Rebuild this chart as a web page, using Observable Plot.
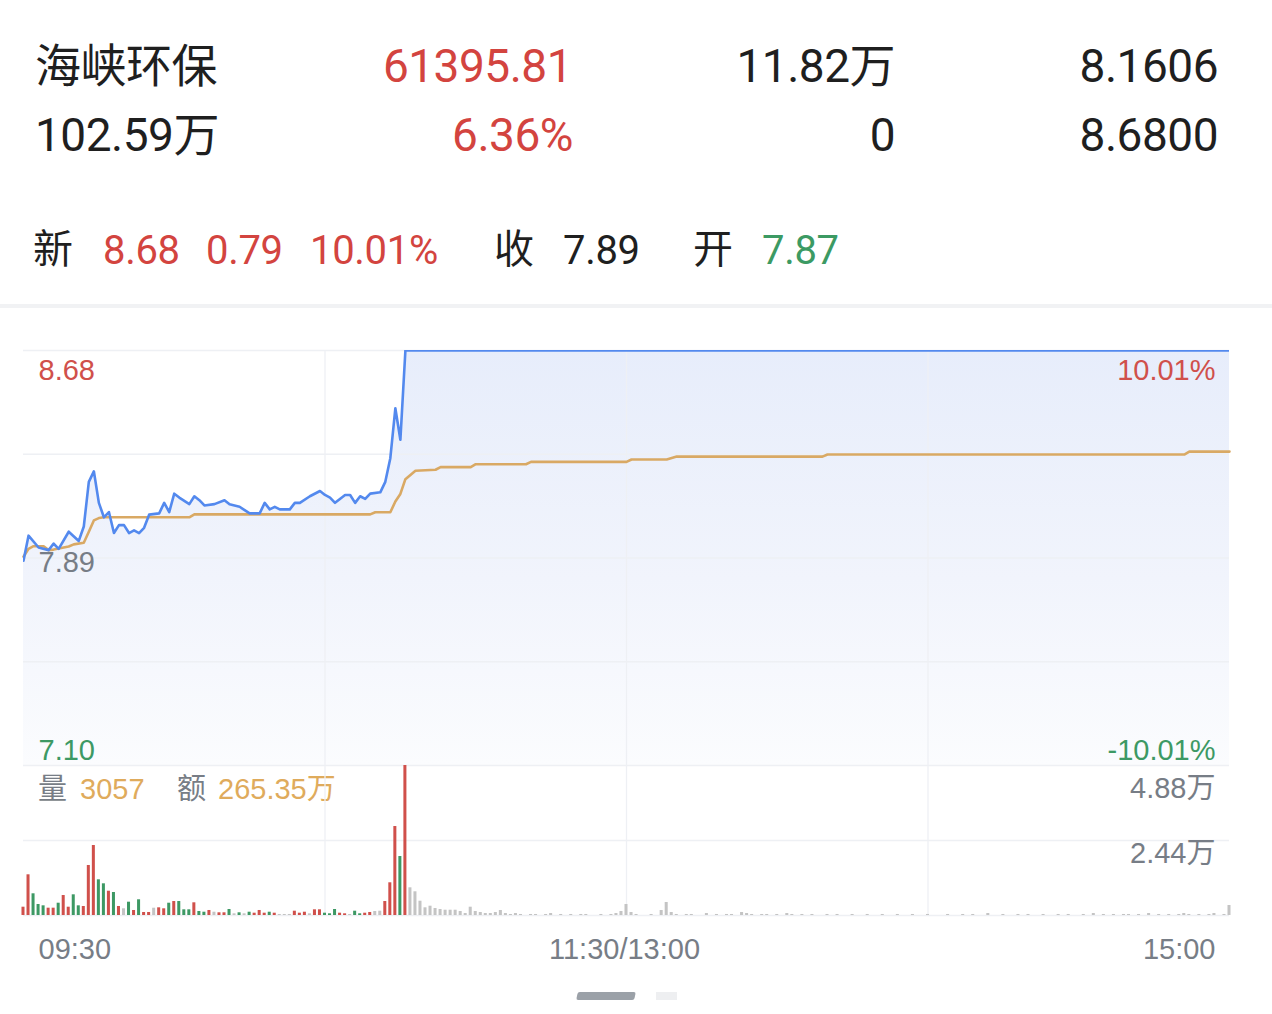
<!DOCTYPE html>
<html><head><meta charset="utf-8">
<script src="https://cdn.jsdelivr.net/npm/d3@7"></script>
<script src="https://cdn.jsdelivr.net/npm/@observablehq/plot@0.6"></script>
<style>
body{margin:0;background:#fff;width:1272px;height:1014px;overflow:hidden;position:relative;font-family:Roboto,"Noto Sans CJK SC",sans-serif;}
.t{position:absolute;white-space:nowrap;line-height:1;}
.h1{font-size:46px;letter-spacing:-0.5px;}
.h3{font-size:40px;letter-spacing:-0.3px;}
.lg{font-family:"Liberation Sans","Noto Sans CJK SC",sans-serif;font-size:29px;}
#price,#vol{position:absolute;left:0;}
#price{top:330px;} #vol{top:745px;}
svg{overflow:visible;}
</style></head><body>
<div id="header"></div>
<div id="price"></div>
<div id="vol"></div>
<div style="position:absolute;left:577px;top:992px;width:58px;height:8px;border-radius:2px;background:#9ba1a8;transform:skewX(-12deg)"></div>
<div style="position:absolute;left:656px;top:992px;width:21px;height:8px;background:#eeeff1"></div>
<script>
// ---------- data ----------
const stockName = "海峡环保";
const headerRow1 = ["61395.81", "11.82万", "8.1606"];
const headerRow2 = ["102.59万", "6.36%", "0", "8.6800"];
const quoteLabels = ["新", "收", "开"];
const lastPrice = "8.68", change = "0.79", changePct = "10.01%";
const prevClose = 7.89, openPrice = "7.87";
const highPrice = 8.68, lowPrice = 7.10;
const volumeNow = "3057", amountNow = "265.35万";

const priceMinutes = [0,1,3,5,6,7,9,11,12,13,14,15,16,17,18,19,20,21,22,23,24,25,27,28,29,30,31,33,34,35,36,38,40,41,43,45,47,48,49,50,51,53,54,55,57,59,60,61,62,64,65,66,67,68,69,71,72,73,74,75,76,240];
const prices = [7.88,7.975,7.93,7.92,7.945,7.925,7.99,7.955,8.01,8.18,8.22,8.10,8.045,8.065,7.985,8.015,8.015,7.985,7.995,7.985,8.005,8.055,8.06,8.10,8.065,8.135,8.12,8.095,8.125,8.11,8.09,8.095,8.11,8.095,8.085,8.06,8.06,8.10,8.075,8.085,8.075,8.075,8.10,8.10,8.125,8.145,8.13,8.12,8.10,8.13,8.13,8.10,8.125,8.115,8.135,8.14,8.18,8.27,8.46,8.34,8.68,8.68];

const avgMinutes = [0,1,2,4,5,6,8,9,10,12,13,14,15,16,33,34,69,70,73,74,75,76,78,82,83,89,90,100,101,120,121,128,130,159,160,231,232,240];
const avgPrices = [7.895,7.925,7.935,7.935,7.92,7.922,7.93,7.934,7.942,7.948,7.99,8.033,8.042,8.045,8.045,8.056,8.056,8.064,8.064,8.105,8.134,8.19,8.222,8.226,8.236,8.236,8.247,8.247,8.256,8.256,8.265,8.265,8.276,8.276,8.284,8.284,8.295,8.295];

// volume per minute (手), minute 0..240
const volumes = [
2700,13240,7060,3580,3150,2380,2380,4000,6500,2700,
6730,3150,2930,16270,22770,11610,10310,7900,7480,2930,
2180,4330,1630,5110,980,980,2370,2500,2180,4000,
4550,4550,1850,1850,4130,1300,1070,1630,1070,880,
880,1950,550,880,550,1070,750,1630,750,1070,
750,330,330,330,1400,750,1070,550,1850,1850,
750,550,1950,750,550,330,1400,550,750,980,
1300,1400,4550,10640,28950,19190,48800,9010,7710,4650,
2500,3030,2280,1950,1720,1720,1720,1300,650,2700,
1300,980,650,650,980,1630,650,330,650,330,
0,330,330,0,330,650,0,330,0,330,
0,330,330,0,0,330,0,330,650,1300,
3580,980,330,0,0,330,0,1630,4230,980,
330,0,330,330,0,0,650,0,330,0,
330,330,0,980,650,330,0,330,330,0,
330,0,650,330,0,330,0,330,0,0,
330,0,330,0,0,330,0,0,330,0,
0,330,0,0,330,0,0,330,0,0,
330,0,0,0,330,0,0,330,0,330,
0,0,650,0,0,330,0,0,330,0,
330,0,0,330,0,0,330,0,330,0,
0,330,0,650,0,330,0,330,0,330,
330,0,330,0,650,0,330,0,330,0,
330,650,330,0,330,0,330,650,0,330,
3250];
// tick direction for minutes 0..76 (1 up, -1 down, 0 flat); after limit-up all flat
const volDirs = [1,1,-1,-1,-1,1,1,-1,1,1, -1,-1,1,1,1,-1,-1,1,-1,1, 0,-1,1,-1,1,1,0,1,1,-1, 1,-1,-1,-1,1,-1,-1,1,0,1, 1,-1,0,-1,0,-1,1,1,1,-1, 1,0,0,0,1,1,1,0,1,1, -1,-1,-1,1,1,0,-1,-1,1,1, 0,0,1,1,1,-1,1];

const timeTickMinutes = [0, 120, 240];
const timeTickLabels = ["09:30", "11:30/13:00", "15:00"];
const gridMinutes = [60, 120, 180];

// ---------- colors ----------
const RED = "#d3443f", GREEN = "#3c9a63", DARK = "#1f1f1f", GRAY = "#777d86";
const BLUE = "#5389ee", ORANGE = "#d9a964", GRID = "#eef0f4";
const CRED = "#d0504b", CGREEN = "#3d9964", VGRAY = "#c4c4c4", VORANGE = "#dfab5c";

// ---------- header ----------
const header = document.getElementById("header");
function put(text, cls, color, top, left, right) {
  const s = document.createElement("span");
  s.className = "t " + cls;
  s.textContent = text;
  s.style.color = color;
  s.style.top = top + "px";
  if (left != null) s.style.left = left + "px";
  if (right != null) s.style.right = (1272 - right) + "px";
  header.appendChild(s);
}
put(stockName, "h1", DARK, 43, 35);
put(headerRow1[0], "h1", RED, 43, null, 572);
put(headerRow1[1], "h1", DARK, 43, null, 895);
put(headerRow1[2], "h1", DARK, 43, null, 1218);
put(headerRow2[0], "h1", DARK, 112, 35);
put(headerRow2[1], "h1", RED, 112, null, 573);
put(headerRow2[2], "h1", DARK, 112, null, 895);
put(headerRow2[3], "h1", DARK, 112, null, 1218);
put(quoteLabels[0], "h3", DARK, 230, 33);
put(lastPrice, "h3", RED, 231, 103);
put(change, "h3", RED, 231, 206);
put(changePct, "h3", RED, 231, 310);
put(quoteLabels[1], "h3", DARK, 230, 494);
put(prevClose.toFixed(2), "h3", DARK, 231, 563);
put(quoteLabels[2], "h3", DARK, 230, 693);
put(openPrice, "h3", GREEN, 231, 762);
const sep = document.createElement("div");
sep.style.cssText = "position:absolute;left:0;top:304px;width:1272px;height:4px;background:#f1f2f4";
header.appendChild(sep);
// volume legend
put("量", "lg", GRAY, 775, 38);
put(volumeNow, "lg", VORANGE, 775, 80);
put("额", "lg", GRAY, 775, 177);
put(amountNow, "lg", VORANGE, 775, 218);

// ---------- tables ----------
const priceData = priceMinutes.map((m, i) => ({m, p: prices[i]}));
const avgData = avgMinutes.map((m, i) => ({m, p: avgPrices[i]}));
const volData = volumes.map((v, m) => ({m, v, dir: m < volDirs.length ? volDirs[m] : 0}));
const volMax = d3.max(volumes);
const gridPrices = [highPrice, (highPrice + prevClose) / 2, prevClose, (lowPrice + prevClose) / 2, lowPrice];
const pct = v => (v / prevClose - 1) * 100;
const wan = v => (v / 10000).toFixed(2) + "万";
const FONT = "'Liberation Sans','Noto Sans CJK SC',sans-serif";

function gradientDefs() {
  const defs = d3.create("svg:defs");
  const g = defs.append("linearGradient").attr("id", "pfill").attr("x1", 0).attr("y1", 0).attr("x2", 0).attr("y2", 1);
  g.append("stop").attr("offset", "0%").attr("stop-color", "#e7edfb");
  g.append("stop").attr("offset", "55%").attr("stop-color", "#f1f4fc");
  g.append("stop").attr("offset", "100%").attr("stop-color", "#fbfcfe");
  return defs.node();
}

const pricePlot = Plot.plot({
  width: 1272, height: 455,
  marginTop: 20, marginBottom: 20, marginLeft: 23, marginRight: 43,
  x: {domain: [0, 240], axis: null},
  y: {domain: [lowPrice, highPrice], axis: null},
  style: {background: "transparent", fontFamily: FONT, overflow: "visible"},
  marks: [
    gradientDefs,
    Plot.areaY(priceData, {x: "m", y1: d => lowPrice, y2: "p", fill: "url(#pfill)"}),
    Plot.ruleY(gridPrices, {stroke: GRID, strokeWidth: 1.3}),
    Plot.ruleX(gridMinutes, {stroke: GRID, strokeWidth: 1.3}),
    Plot.line(avgData, {x: "m", y: "p", stroke: ORANGE, strokeWidth: 2.6}),
    Plot.line(priceData, {x: "m", y: "p", stroke: BLUE, strokeWidth: 2.6, clip: true}),
    Plot.text([highPrice], {x: 0, y: d => d, text: d => d.toFixed(2), textAnchor: "start", lineAnchor: "top", dx: 15, dy: 9, fill: CRED, fontSize: 29}),
    Plot.text([prevClose], {x: 0, y: d => d, text: d => d.toFixed(2), textAnchor: "start", lineAnchor: "middle", dx: 15, dy: 5, fill: GRAY, fontSize: 29}),
    Plot.text([lowPrice], {x: 0, y: d => d, text: d => d.toFixed(2), textAnchor: "start", lineAnchor: "bottom", dx: 15, dy: -6, fill: CGREEN, fontSize: 29}),
    Plot.text([highPrice], {x: 240, y: d => d, text: d => pct(d).toFixed(2) + "%", textAnchor: "end", lineAnchor: "top", dx: -14, dy: 9, fill: CRED, fontSize: 29}),
    Plot.text([lowPrice], {x: 240, y: d => d, text: d => pct(d).toFixed(2) + "%", textAnchor: "end", lineAnchor: "bottom", dx: -14, dy: -6, fill: CGREEN, fontSize: 29})
  ]
});
document.getElementById("price").appendChild(pricePlot);

const volPlot = Plot.plot({
  width: 1272, height: 230,
  marginTop: 20, marginBottom: 60, marginLeft: 23, marginRight: 43,
  x: {domain: [0, 240], axis: null},
  y: {domain: [0, volMax], axis: null},
  color: {domain: [1, -1, 0], range: [CRED, CGREEN, VGRAY]},
  style: {background: "transparent", fontFamily: FONT, overflow: "visible"},
  marks: [
    Plot.ruleY([volMax / 2, 0], {stroke: GRID, strokeWidth: 1.3}),
    Plot.ruleX(gridMinutes, {stroke: GRID, strokeWidth: 1.3}),
    Plot.rect(volData, {x1: d => d.m - 0.3, x2: d => d.m + 0.3, y1: d => 0, y2: "v", fill: "dir"}),
    Plot.text([volMax], {x: 240, y: d => d, text: wan, textAnchor: "end", lineAnchor: "top", dx: -14, dy: 12, fill: GRAY, fontSize: 29}),
    Plot.text([volMax / 2], {x: 240, y: d => d, text: wan, textAnchor: "end", lineAnchor: "top", dx: -14, dy: 2, fill: GRAY, fontSize: 29}),
    Plot.text([0], {x: d => timeTickMinutes[0], frameAnchor: "bottom", text: d => timeTickLabels[0], textAnchor: "start", lineAnchor: "middle", dx: 15, dy: 34, fill: GRAY, fontSize: 29}),
    Plot.text([1], {x: d => timeTickMinutes[1], frameAnchor: "bottom", text: d => timeTickLabels[1], textAnchor: "middle", lineAnchor: "middle", dx: -2, dy: 34, fill: GRAY, fontSize: 29}),
    Plot.text([2], {x: d => timeTickMinutes[2], frameAnchor: "bottom", text: d => timeTickLabels[2], textAnchor: "end", lineAnchor: "middle", dx: -14, dy: 34, fill: GRAY, fontSize: 29})
  ]
});
document.getElementById("vol").appendChild(volPlot);
</script>
</body></html>
